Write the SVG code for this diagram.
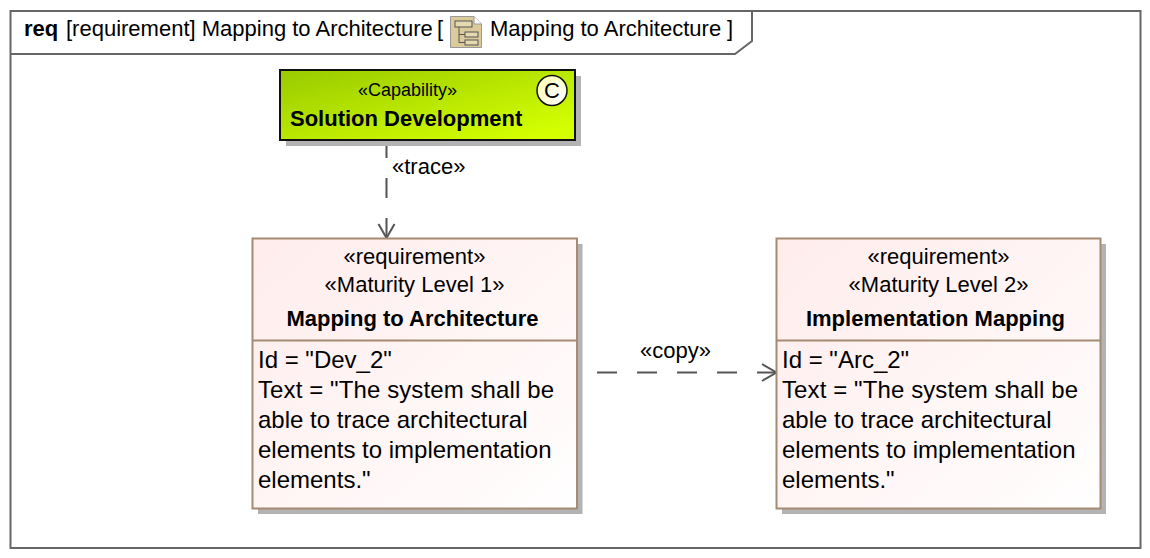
<svg xmlns="http://www.w3.org/2000/svg" width="1150" height="558" viewBox="0 0 1150 558">
<style>
text{font-family:"Liberation Sans",Arial,sans-serif;fill:#000;font-size:22px}
.m{text-anchor:middle}
.b{font-weight:bold}
.s{font-size:18px}
.l{font-size:24px}
.sh{fill:#b3b3b3}
.req{fill:url(#rg);stroke:#a58b73;stroke-width:2}
.div{stroke:#a58b73;stroke-width:2;fill:none}
.dash{stroke:#555;stroke-width:2;fill:none;stroke-dasharray:20 20}
.head{stroke:#555;stroke-width:2;fill:none}
.ic{fill:#e6d8b0;stroke:#555;stroke-width:1}
</style>
<defs>
<linearGradient id="rg" x1="0" y1="0" x2="1" y2="1"><stop offset="0" stop-color="#ffecec"/><stop offset="0.8" stop-color="#fffafa"/><stop offset="1" stop-color="#ffffff"/></linearGradient>
<linearGradient id="gg" x1="0" y1="0" x2="1" y2="1"><stop offset="0" stop-color="#98ca00"/><stop offset="0.9" stop-color="#d4ff00"/></linearGradient>
<radialGradient id="cg" cx="0.7" cy="0.7" r="0.8"><stop offset="0" stop-color="#ffffff"/><stop offset="1" stop-color="#ffffb8"/></radialGradient>
</defs>
<g id="frame">
<rect x="10.500" y="11" width="1130" height="537" fill="#fff" stroke="#666" stroke-width="2"/>
<path d="M11 54H735L752 41V11" fill="none" stroke="#666" stroke-width="2"/>
<text x="24" y="36" class="b">req</text>
<text x="66" y="36">[requirement] Mapping to Architecture</text>
<text x="437" y="36">[</text>
<g id="frame-icon">
<path d="M450.500 16.500H474L481.500 24V47.500H450.500Z" fill="#dccb9a" stroke="#999" stroke-width="1"/>
<path d="M474 16.500V24H481.500" fill="#fff" stroke="#999" stroke-width="1"/>
<rect x="455" y="21" width="17" height="6" class="ic"/>
<rect x="465" y="32" width="13" height="5" class="ic"/>
<rect x="465" y="40" width="13" height="5" class="ic"/>
<path d="M459 27V42.500H465M459 34.500H465" fill="none" stroke="#555" stroke-width="1"/>
</g>
<text x="490" y="36">Mapping to Architecture</text>
<text x="727" y="36">]</text>
</g>
<g id="connectors">
<path class="dash" d="M386.500 141V238" style="stroke-dasharray:17 20 20 20 20"/>
<path class="head" d="M378.500 224L386.500 238L394.500 224"/>
<path class="dash" d="M597 372.500H776"/>
<path class="head" d="M762 364L776.500 372.500L762 381"/>
<text x="392" y="174">«trace»</text>
<text x="640" y="358">«copy»</text>
</g>
<g id="capability">
<rect x="286" y="76" width="295" height="70" class="sh"/>
<rect x="280" y="70" width="295" height="70" fill="url(#gg)" stroke="#111" stroke-width="2"/>
<circle cx="552" cy="90.500" r="15" fill="url(#cg)" stroke="#111" stroke-width="1.500"/>
<text x="552" y="98" class="m">C</text>
<text x="407.500" y="96" class="m s">«Capability»</text>
<text x="290" y="126" class="b">Solution Development</text>
</g>
<g id="req-dev2">
<rect x="258" y="244" width="324.500" height="270" class="sh"/>
<rect x="252.500" y="238.500" width="324.500" height="270" class="req"/>
<path class="div" d="M252.500 340.500H577"/>
<text x="414.500" y="264" class="m">«requirement»</text>
<text x="414.500" y="292" class="m">«Maturity Level 1»</text>
<text x="412.500" y="326" class="m b">Mapping to Architecture</text>
<text x="258" y="368" class="l">Id = "Dev_2"</text>
<text x="258" y="398" class="l" textLength="296">Text = "The system shall be</text>
<text x="258" y="428" class="l">able to trace architectural</text>
<text x="258" y="458" class="l">elements to implementation</text>
<text x="258" y="488" class="l">elements."</text>
</g>
<g id="req-arc2">
<rect x="782" y="244" width="324" height="270" class="sh"/>
<rect x="776.500" y="238.500" width="324" height="270" class="req"/>
<path class="div" d="M776.500 340.500H1100.500"/>
<text x="938.500" y="264" class="m">«requirement»</text>
<text x="938.500" y="292" class="m">«Maturity Level 2»</text>
<text x="935.500" y="326" class="m b">Implementation Mapping</text>
<text x="782" y="368" class="l">Id = "Arc_2"</text>
<text x="782" y="398" class="l" textLength="296">Text = "The system shall be</text>
<text x="782" y="428" class="l">able to trace architectural</text>
<text x="782" y="458" class="l">elements to implementation</text>
<text x="782" y="488" class="l">elements."</text>
</g>
</svg>
